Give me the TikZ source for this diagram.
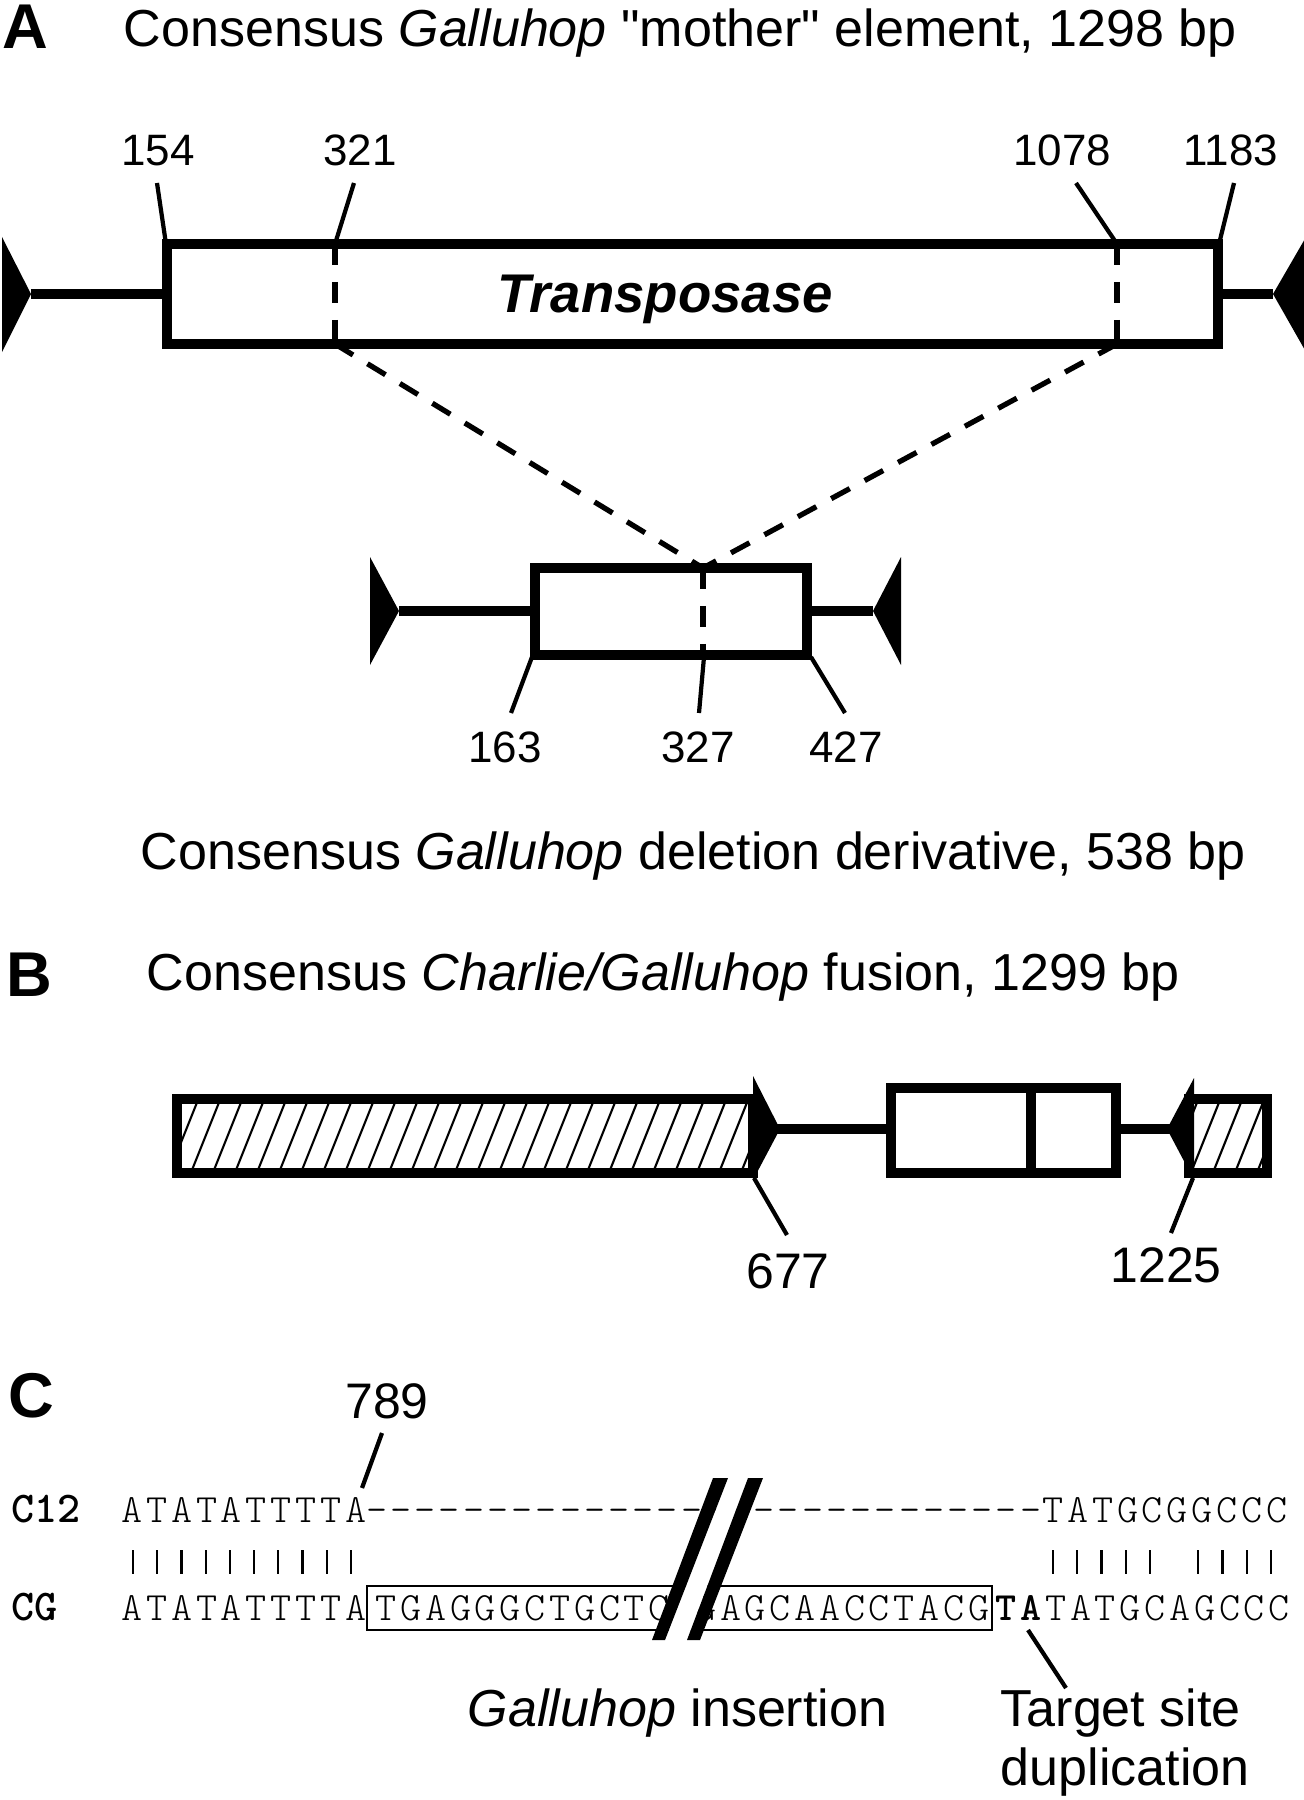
\documentclass[tikz,border=0pt]{standalone}
\usepackage{fontspec}
\setmainfont{Liberation Sans}
\newfontfamily\seqfont{lmmonolt10-regular.otf}[BoldFont=lmmonolt10-bold.otf, LetterSpace=9.4]
\newfontfamily\tagfont{lmmonolt10-bold.otf}
\usepackage{tikz}
\newcommand{\sq}{\XeTeXglyph\XeTeXcharglyph"22\relax}
\newcommand{\gaprun}[1]{\foreach \k in {1,...,#1}{\makebox[0.242cm]{-}}}
\tikzset{
  panel/.style={font=\fontsize{18}{20}\selectfont\bfseries, anchor=base west, inner sep=0pt},
  caption/.style={font=\fontsize{14.8}{17}\selectfont, anchor=base west, inner sep=0pt},
  pos small/.style={font=\fontsize{12.5}{15}\selectfont, anchor=base, inner sep=0pt},
  pos big/.style={font=\fontsize{14.2}{16}\selectfont, anchor=base, inner sep=0pt},
  seq/.style={font=\seqfont\fontsize{11.4}{13}\selectfont, anchor=base west, inner sep=0pt},
  seq tag/.style={font=\tagfont\fontsize{12.5}{14}\selectfont, anchor=base west, inner sep=0pt},
  frame/.style={draw, line width=2.6pt},
  flank/.style={line width=2.6pt},
  tir/.style={fill=black},
  leader/.style={line width=1.2pt},
  cut/.style={line width=1.5pt, dash pattern=on 6pt off 4.8pt},
  hatch/.style={line width=0.6pt},
  match/.style={line width=0.6pt},
  ins box/.style={draw, line width=0.7pt}
}
\begin{document}
\begin{tikzpicture}[x=0.01cm, y=-0.01cm]
  \useasboundingbox (0,0) rectangle (1303,1800);

  % A: mother element
  \node[panel] (labA) at (2,49) {A};
  \node[caption] (capA) at (123,47) {Consensus \textit{Galluhop} \sq mother\sq{} element, 1298 bp};

  \draw[flank] (31,294) -- (167,294);
  \draw[flank] (1218,294) -- (1273,294);
  \fill[tir] (2,237) -- (31,294) -- (2,352) -- cycle;
  \fill[tir] (1306,237) -- (1273,294) -- (1306,352) -- cycle;
  \draw[frame, fill=white] (167,244) rectangle (1218,344);
  \draw[cut] (335,244) -- (335,344);
  \draw[cut] (1117,244) -- (1117,344);
  \node[font=\fontsize{15.5}{18}\selectfont\bfseries\itshape, anchor=base, inner sep=0pt] (tpase) at (665,312) {Transposase};

  \node[pos small] (p154) at (158,166) {154};
  \node[pos small] (p321) at (360,166) {321};
  \node[pos small] (p1078) at (1062,166) {1078};
  \node[pos small] (p1183) at (1231,166) {1183};
  \coordinate (e154) at (166,244);
  \coordinate (e321) at (335,244);
  \coordinate (e1078) at (1117,244);
  \coordinate (e1183) at (1219,244);
  \draw[leader] (157,183) -- (e154);
  \draw[leader] (354,183) -- (e321);
  \draw[leader] (1076,183) -- (e1078);
  \draw[leader] (1234,183) -- (e1183);

  % deletion derivative
  \coordinate (join) at (703,568);
  \draw[cut] (335,344) -- (join);
  \draw[cut] (1117,344) -- (join);

  \draw[flank] (399,611) -- (535,611);
  \draw[flank] (807,611) -- (873,611);
  \fill[tir] (370,557) -- (399,611) -- (370,665) -- cycle;
  \fill[tir] (901,557) -- (873,611) -- (901,665) -- cycle;
  \draw[frame, fill=white] (535,568) rectangle (807,655);
  \draw[cut] (join) -- (703,655);

  \node[pos small] (p163) at (505,762) {163};
  \node[pos small] (p327) at (698,762) {327};
  \node[pos small] (p427) at (846,762) {427};
  \draw[leader] (532,657) -- (511,713);
  \draw[leader] (704,657) -- (699,713);
  \draw[leader] (811,657) -- (845,713);

  \node[caption] (capdel) at (140,869) {Consensus \textit{Galluhop} deletion derivative, 538 bp};

  % B: fusion
  \node[panel] (labB) at (6,996) {B};
  \node[caption] (capB) at (146,990) {Consensus \textit{Charlie/Galluhop} fusion, 1299 bp};

  \begin{scope}
    \clip (177,1099) rectangle (753,1173);
    \foreach \x in {100,122,...,780} \draw[hatch] (\x,1180) -- ++(36,-90);
  \end{scope}
  \begin{scope}
    \clip (1189,1099) rectangle (1267,1173);
    \foreach \x in {1166,1188,...,1280} \draw[hatch] (\x,1180) -- ++(36,-90);
  \end{scope}
  \draw[frame] (177,1099) rectangle (753,1173);
  \draw[frame] (1189,1099) rectangle (1267,1173);

  \draw[flank] (776,1129) -- (891,1129);
  \draw[flank] (1116,1129) -- (1170,1129);
  \draw[frame, fill=white] (891,1088) rectangle (1116,1173);
  \draw[frame] (1031,1088) -- (1031,1173);
  \fill[tir] (753,1076) -- (780,1129) -- (753,1180) -- cycle;
  \fill[tir] (1194,1078) -- (1167,1129) -- (1194,1180) -- cycle;

  \node[pos big] (p677) at (788,1288) {677};
  \node[pos big] (p1225) at (1166,1282) {1225};
  \draw[leader] (754,1178) -- (787,1235);
  \draw[leader] (1193,1178) -- (1171,1233);

  % C: insertion site
  \node[panel] (labC) at (8,1417) {C};
  \node[pos big] (p789) at (387,1418) {789};
  \draw[leader] (382,1433) -- (362,1488);

  \node[seq tag] (tagC12) at (11,1522) {C12};
  \node[seq tag] (tagCG) at (11,1620) {CG};

  \node[seq] (c12a) at (121,1522) {ATATATTTTA};
  \node[seq] (c12gap) at (364,1522) {\gaprun{28}};
  \node[seq] (c12b) at (1042,1522) {TATGCGGCCC};

  \foreach \i in {0,...,9} \draw[match] ({121+(\i+0.5)*24.2},1550) -- ++(0,24);
  \foreach \i in {38,39,40,41,42,44,45,46,47} \draw[match] ({1283-(47.5-\i)*24.2},1550) -- ++(0,24);

  \node[seq] (cga) at (121,1620) {ATATATTTTA};
  \draw[ins box] (367,1586) rectangle (992,1630);
  \node[seq] (insL) at (375,1620) {TGAGGGCTGCTC};
  \node[seq, anchor=base east] (insR) at (990,1620) {GAGCAACCTACG};
  \node[seq] (cgb) at (995,1620) {\textbf{TA}TATGCAGCCC};

  % break marks
  \fill[white] (665,1640) -- (687,1640) -- (748,1478) -- (728,1478) -- cycle;
  \fill (652,1640) -- (665,1640) -- (728,1478) -- (713,1478) -- cycle;
  \fill (687,1640) -- (700,1640) -- (763,1478) -- (748,1478) -- cycle;

  \node[caption] (ins) at (467,1726) {\textit{Galluhop} insertion};
  \node[caption] (tsd1) at (1000,1726) {Target site};
  \node[caption] (tsd2) at (1000,1785) {duplication};
  \draw[leader] (1028,1630) -- (1066,1688);
\end{tikzpicture}
\end{document}
